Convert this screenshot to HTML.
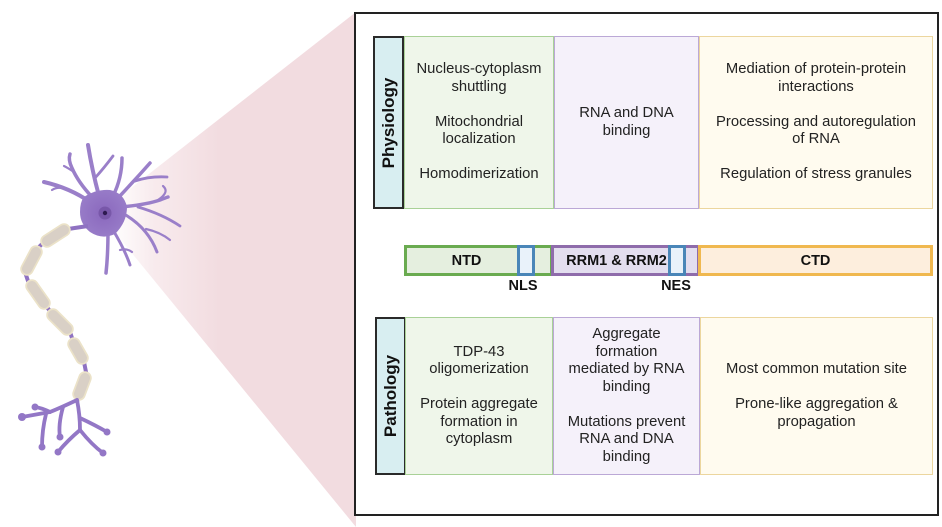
<!DOCTYPE html>
<html><head><meta charset="utf-8">
<style>
*{box-sizing:border-box;margin:0;padding:0}
body{width:942px;height:527px;background:#fff;position:relative;overflow:hidden;font-family:"Liberation Sans",Arial,sans-serif;color:#222}
.abs{position:absolute}
.main{left:354px;top:12px;width:585px;height:504px;border:2px solid #222;background:#fff}
.lab{border:2px solid #2a2a2a;background:#d8eef1}
.vt{position:absolute;left:50%;top:50%;transform:translate(-50%,-50%) rotate(-90deg);font-weight:bold;font-size:17px;white-space:nowrap;color:#111}
.cell{display:flex;flex-direction:column;justify-content:center;align-items:center;text-align:center;font-size:14.8px;line-height:17.5px;color:#222;white-space:nowrap}
.cell p+p{margin-top:17.5px}
.g{background:#eff6ea;border:1px solid #a9d197}
.p{background:#f5f1fa;border:1px solid #bba8d6}
.y{background:#fffbef;border:1px solid #ecd69e}
.bar{height:31px;top:245px;border:3px solid;display:flex;align-items:center;justify-content:center;font-weight:bold;font-size:14.5px;color:#111}
.bl{font-weight:bold;font-size:14.5px;color:#111;transform:translateX(-50%);white-space:nowrap}
</style></head><body>

<svg class="abs" style="left:0;top:0" width="942" height="527" viewBox="0 0 942 527">
  <defs>
    <linearGradient id="pk" gradientUnits="userSpaceOnUse" x1="110" y1="0" x2="220" y2="0">
      <stop offset="0" stop-color="#f3dde1" stop-opacity="0"/>
      <stop offset="0.4" stop-color="#f3dde1" stop-opacity="0.6"/>
      <stop offset="1" stop-color="#f2dce0" stop-opacity="1"/>
    </linearGradient>
    <radialGradient id="soma" cx="0.5" cy="0.5" r="0.6">
      <stop offset="0" stop-color="#8a68bd"/>
      <stop offset="1" stop-color="#9a7fca"/>
    </radialGradient>
  </defs>
  <polygon points="99,213 356,12 356,527" fill="url(#pk)"/>

  <!-- dendrites -->
  <g fill="none" stroke="#9a7fc9" stroke-linecap="round" stroke-linejoin="round">
    <path d="M90,202 Q70,188 44,182" stroke-width="4"/>
    <path d="M66,189 Q58,186 52,190" stroke-width="2.2"/>
    <path d="M92,197 Q78,182 72,168 Q68,160 70,154" stroke-width="3.5"/>
    <path d="M74,172 Q68,168 64,166" stroke-width="2.2"/>
    <path d="M99,196 Q92,170 88,145" stroke-width="4"/>
    <path d="M95,178 Q104,168 113,156" stroke-width="2.8"/>
    <path d="M113,196 Q122,178 122,158" stroke-width="3.5"/>
    <path d="M117,199 Q135,180 150,163" stroke-width="3.5"/>
    <path d="M135,181 Q150,176 167,177" stroke-width="2.8"/>
    <path d="M120,207 Q145,205 160,200 Q165,198 168,197" stroke-width="3.5"/>
    <path d="M158,200 Q170,192 163,186" stroke-width="2.2"/>
    <path d="M138,207 Q162,214 180,226" stroke-width="2.8"/>
    <path d="M124,214 Q148,228 157,252" stroke-width="3"/>
    <path d="M146,229 Q160,232 170,240" stroke-width="2.2"/>
    <path d="M108,230 Q108,255 106,273" stroke-width="3.5"/>
    <path d="M113,230 Q125,250 130,265" stroke-width="3"/>
    <path d="M120,250 Q127,248 132,252" stroke-width="2.2"/>
  </g>
  <!-- soma -->
  <path d="M84,197 Q96,189 110,190 Q124,193 127,207 Q127,222 115,234 Q102,240 90,232 Q80,224 80,212 Q80,202 84,197 Z" fill="url(#soma)"/>
  <circle cx="105" cy="213" r="6.5" fill="#6f4f9f" opacity="0.7"/>
  <circle cx="105" cy="213" r="2.2" fill="#2e1a50"/>

  <!-- axon -->
  <path d="M88,226 L68,229 L43,243 L38,248 L25,272 L28,281 L46,306 L50,311 L70,332 L72,338 L84,362 L86,372 L78,398 L77,402" fill="none" stroke="#8f72c2" stroke-width="4" stroke-linejoin="round"/>
  <g stroke-linecap="round">
    <g stroke="#ebe2c8" stroke-width="13.5">
      <line x1="64" y1="230" x2="47" y2="241"/>
      <line x1="36" y1="252" x2="27" y2="269"/>
      <line x1="32" y1="286" x2="44" y2="303"/>
      <line x1="53" y1="315" x2="67" y2="329"/>
      <line x1="74" y1="344" x2="82" y2="358"/>
      <line x1="85" y1="378" x2="79" y2="394"/>
    </g>
    <g stroke="#d9d0c6" stroke-width="10">
      <line x1="64" y1="230" x2="47" y2="241"/>
      <line x1="36" y1="252" x2="27" y2="269"/>
      <line x1="32" y1="286" x2="44" y2="303"/>
      <line x1="53" y1="315" x2="67" y2="329"/>
      <line x1="74" y1="344" x2="82" y2="358"/>
      <line x1="85" y1="378" x2="79" y2="394"/>
    </g>
  </g>
  <!-- terminals -->
  <g fill="none" stroke="#9377c6" stroke-linecap="round" stroke-linejoin="round" stroke-width="3.8">
    <path d="M77,400 Q60,408 50,412 L22,417"/>
    <path d="M50,412 Q42,408 35,407"/>
    <path d="M46,414 Q42,430 42,447"/>
    <path d="M63,407 Q58,425 60,437"/>
    <path d="M77,400 Q80,415 80,430"/>
    <path d="M80,430 Q68,440 58,452"/>
    <path d="M80,430 Q92,445 103,453"/>
    <path d="M80,418 Q95,425 107,432"/>
  </g>
  <g fill="#9377c6">
    <circle cx="22" cy="417" r="4"/>
    <circle cx="35" cy="407" r="3.5"/>
    <circle cx="42" cy="447" r="3.5"/>
    <circle cx="60" cy="437" r="3.5"/>
    <circle cx="58" cy="452" r="3.5"/>
    <circle cx="103" cy="453" r="3.5"/>
    <circle cx="107" cy="432" r="3.5"/>
  </g>
</svg>

<div class="abs main"></div>

<!-- Physiology row -->
<div class="abs lab" style="left:373px;top:36px;width:31px;height:173px"><div class="vt">Physiology</div></div>
<div class="abs cell g" style="left:404px;top:36px;width:150px;height:173px">
  <p>Nucleus-cytoplasm<br>shuttling</p><p>Mitochondrial<br>localization</p><p>Homodimerization</p>
</div>
<div class="abs cell p" style="left:554px;top:36px;width:145px;height:173px">
  <p>RNA and DNA<br>binding</p>
</div>
<div class="abs cell y" style="left:699px;top:36px;width:234px;height:173px">
  <p>Mediation of protein-protein<br>interactions</p><p>Processing and autoregulation<br>of RNA</p><p>Regulation of stress granules</p>
</div>

<!-- Domain bar -->
<div class="abs bar" style="left:404px;width:149px;border-color:#6aab50;background:#e5efdf;padding-right:24px">NTD</div>
<div class="abs bar" style="left:551px;width:149px;border-color:#8f6cab;background:#e3deef;padding-right:18px">RRM1 &amp; RRM2</div>
<div class="abs bar" style="left:698px;width:235px;border-color:#f0b84f;background:#fdeedd">CTD</div>
<div class="abs bar" style="left:517px;width:18px;border-color:#4a86b8;background:#e9f2fa"></div>
<div class="abs bar" style="left:668px;width:18px;border-color:#4a86b8;background:#e9f2fa"></div>
<div class="abs bl" style="left:523px;top:278px">NLS</div>
<div class="abs bl" style="left:676px;top:278px">NES</div>

<!-- Pathology row -->
<div class="abs lab" style="left:375px;top:317px;width:31px;height:158px"><div class="vt">Pathology</div></div>
<div class="abs cell g" style="left:405px;top:317px;width:148px;height:158px">
  <p>TDP-43<br>oligomerization</p><p>Protein aggregate<br>formation in<br>cytoplasm</p>
</div>
<div class="abs cell p" style="left:553px;top:317px;width:147px;height:158px">
  <p>Aggregate<br>formation<br>mediated by RNA<br>binding</p><p>Mutations prevent<br>RNA and DNA<br>binding</p>
</div>
<div class="abs cell y" style="left:700px;top:317px;width:233px;height:158px">
  <p>Most common mutation site</p><p>Prone-like aggregation &amp;<br>propagation</p>
</div>

</body></html>
